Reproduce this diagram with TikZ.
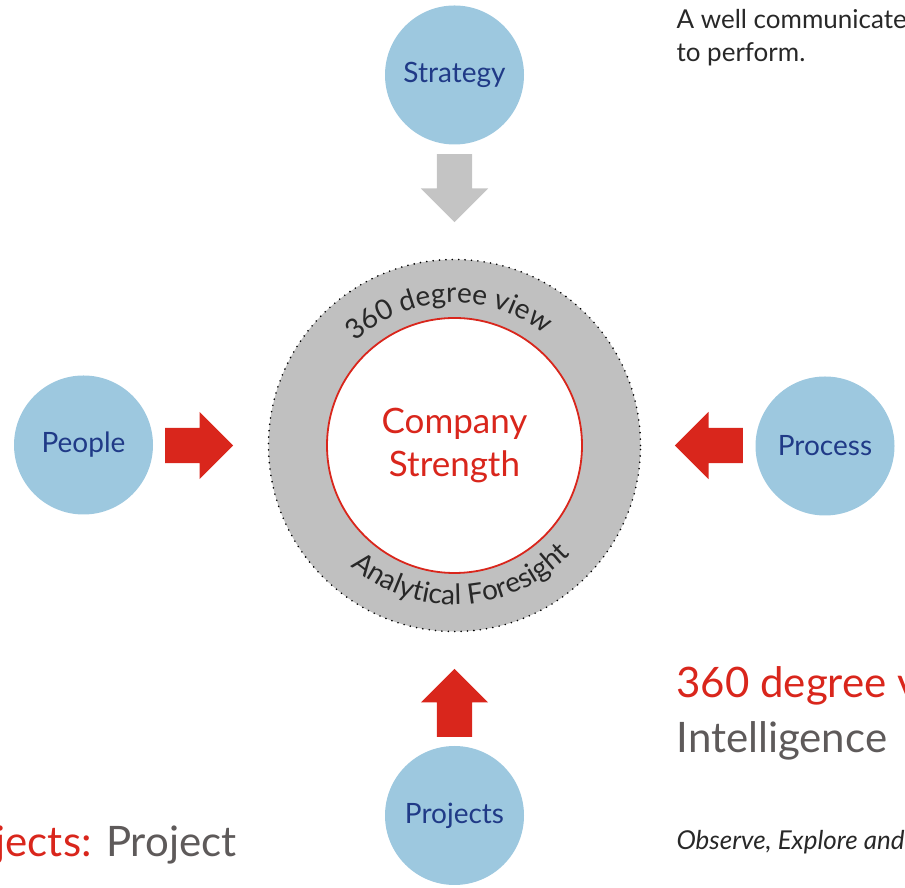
\documentclass[tikz,border=0pt]{standalone}
\usepackage{fontspec}
\setmainfont{Lato}
\usetikzlibrary{positioning,shapes.arrows,decorations.text}
\definecolor{bubbleBlue}{RGB}{157,200,223}
\definecolor{navy}{RGB}{32,58,135}
\definecolor{brickRed}{RGB}{217,38,28}
\definecolor{ringGray}{RGB}{192,192,192}
\definecolor{arrowGray}{RGB}{196,196,196}
\definecolor{textGray}{RGB}{94,90,90}
\definecolor{ringText}{RGB}{40,40,40}
\tikzset{
  bubble/.style={circle, fill=bubbleBlue, minimum size=139pt, inner sep=0pt, text=navy, font=\fontsize{28}{28}\selectfont},
  ring/.style={circle, fill=ringGray, draw=black, line width=1.8pt, dash pattern=on 0pt off 6.4pt, line cap=round, minimum size=372pt, inner sep=0pt},
  core/.style={circle, fill=white, draw=brickRed, line width=1.8pt, minimum size=255pt, inner sep=0pt, text=brickRed, align=center, font=\fontsize{35}{43}\selectfont},
  blockArrow/.style={single arrow, anchor=tail, minimum height=68pt, inner xsep=0pt, inner ysep=17.5pt, single arrow head extend=16pt, single arrow tip angle=90},
%  blockArrowGray/.style={blockArrow, fill=arrowGray},
  note/.style={anchor=base west, text=ringText, font=\fontsize{26}{26}\selectfont},
  heading/.style={text=textGray, font=\fontsize{42}{42}\selectfont}
}
\begin{document}
\begin{tikzpicture}[x=1pt, y=1pt]
  \useasboundingbox (0,0) rectangle (905,888);
  \clip (0,0) rectangle (905,888);
  % centre
  \node [ring] (ring) at (454.5,442.5) {};
  \node [core] (core) at (ring.center) {Company\\Strength};
  \path [decorate, decoration={text along path, text align=center,
      text={|\fontsize{28}{28}\selectfont\color{ringText}|360 degree view}}]
    (ring.center) ++(172.5:143) arc [start angle=172.5, end angle=12.5, radius=143];
  \path [decorate, decoration={text along path, text align=center,
      text={|\fontsize{28}{28}\selectfont\color{ringText}|Analytical Foresight}}]
    (ring.center) ++(193:159) arc [start angle=193, end angle=353, radius=159];
  % inputs
  \node [bubble] (strategy) at (454.5,813) {Strategy};
  \node [bubble] (people) at (83.5,443) {People};
  \node [bubble] (process) at (825,442) {Process};
  \node [bubble] (projects) at (454.5,72.5) {Projects};
  \node [blockArrow, fill=arrowGray, rotate=-90] (strategyIn) at (454.5,734) {};
  \node [blockArrow, fill=brickRed] (peopleIn) at (165,442.5) {};
  \node [blockArrow, fill=brickRed, rotate=180] (processIn) at (743,442.5) {};
  \node [blockArrow, fill=brickRed, rotate=90] (projectsIn) at (454.5,151) {};
  % text around
  \node [note] (goal) at (673,859) {A well communicate};
  \node [note] (goalEnd) at (673,826) {to perform.};
  \node [heading, anchor=base west, text=brickRed] (viewHead) at (673,190) {360 degree v};
  \node [heading, anchor=base west] (intel) at (673,135) {Intelligence};
  \node [note, font=\fontsize{26}{26}\selectfont\itshape] (observe) at (673,38) {Observe, Explore and};
  \node [heading, anchor=base east] (projHead) at (240,31) {\textcolor{brickRed}{jects:} Project};
\end{tikzpicture}
\end{document}
